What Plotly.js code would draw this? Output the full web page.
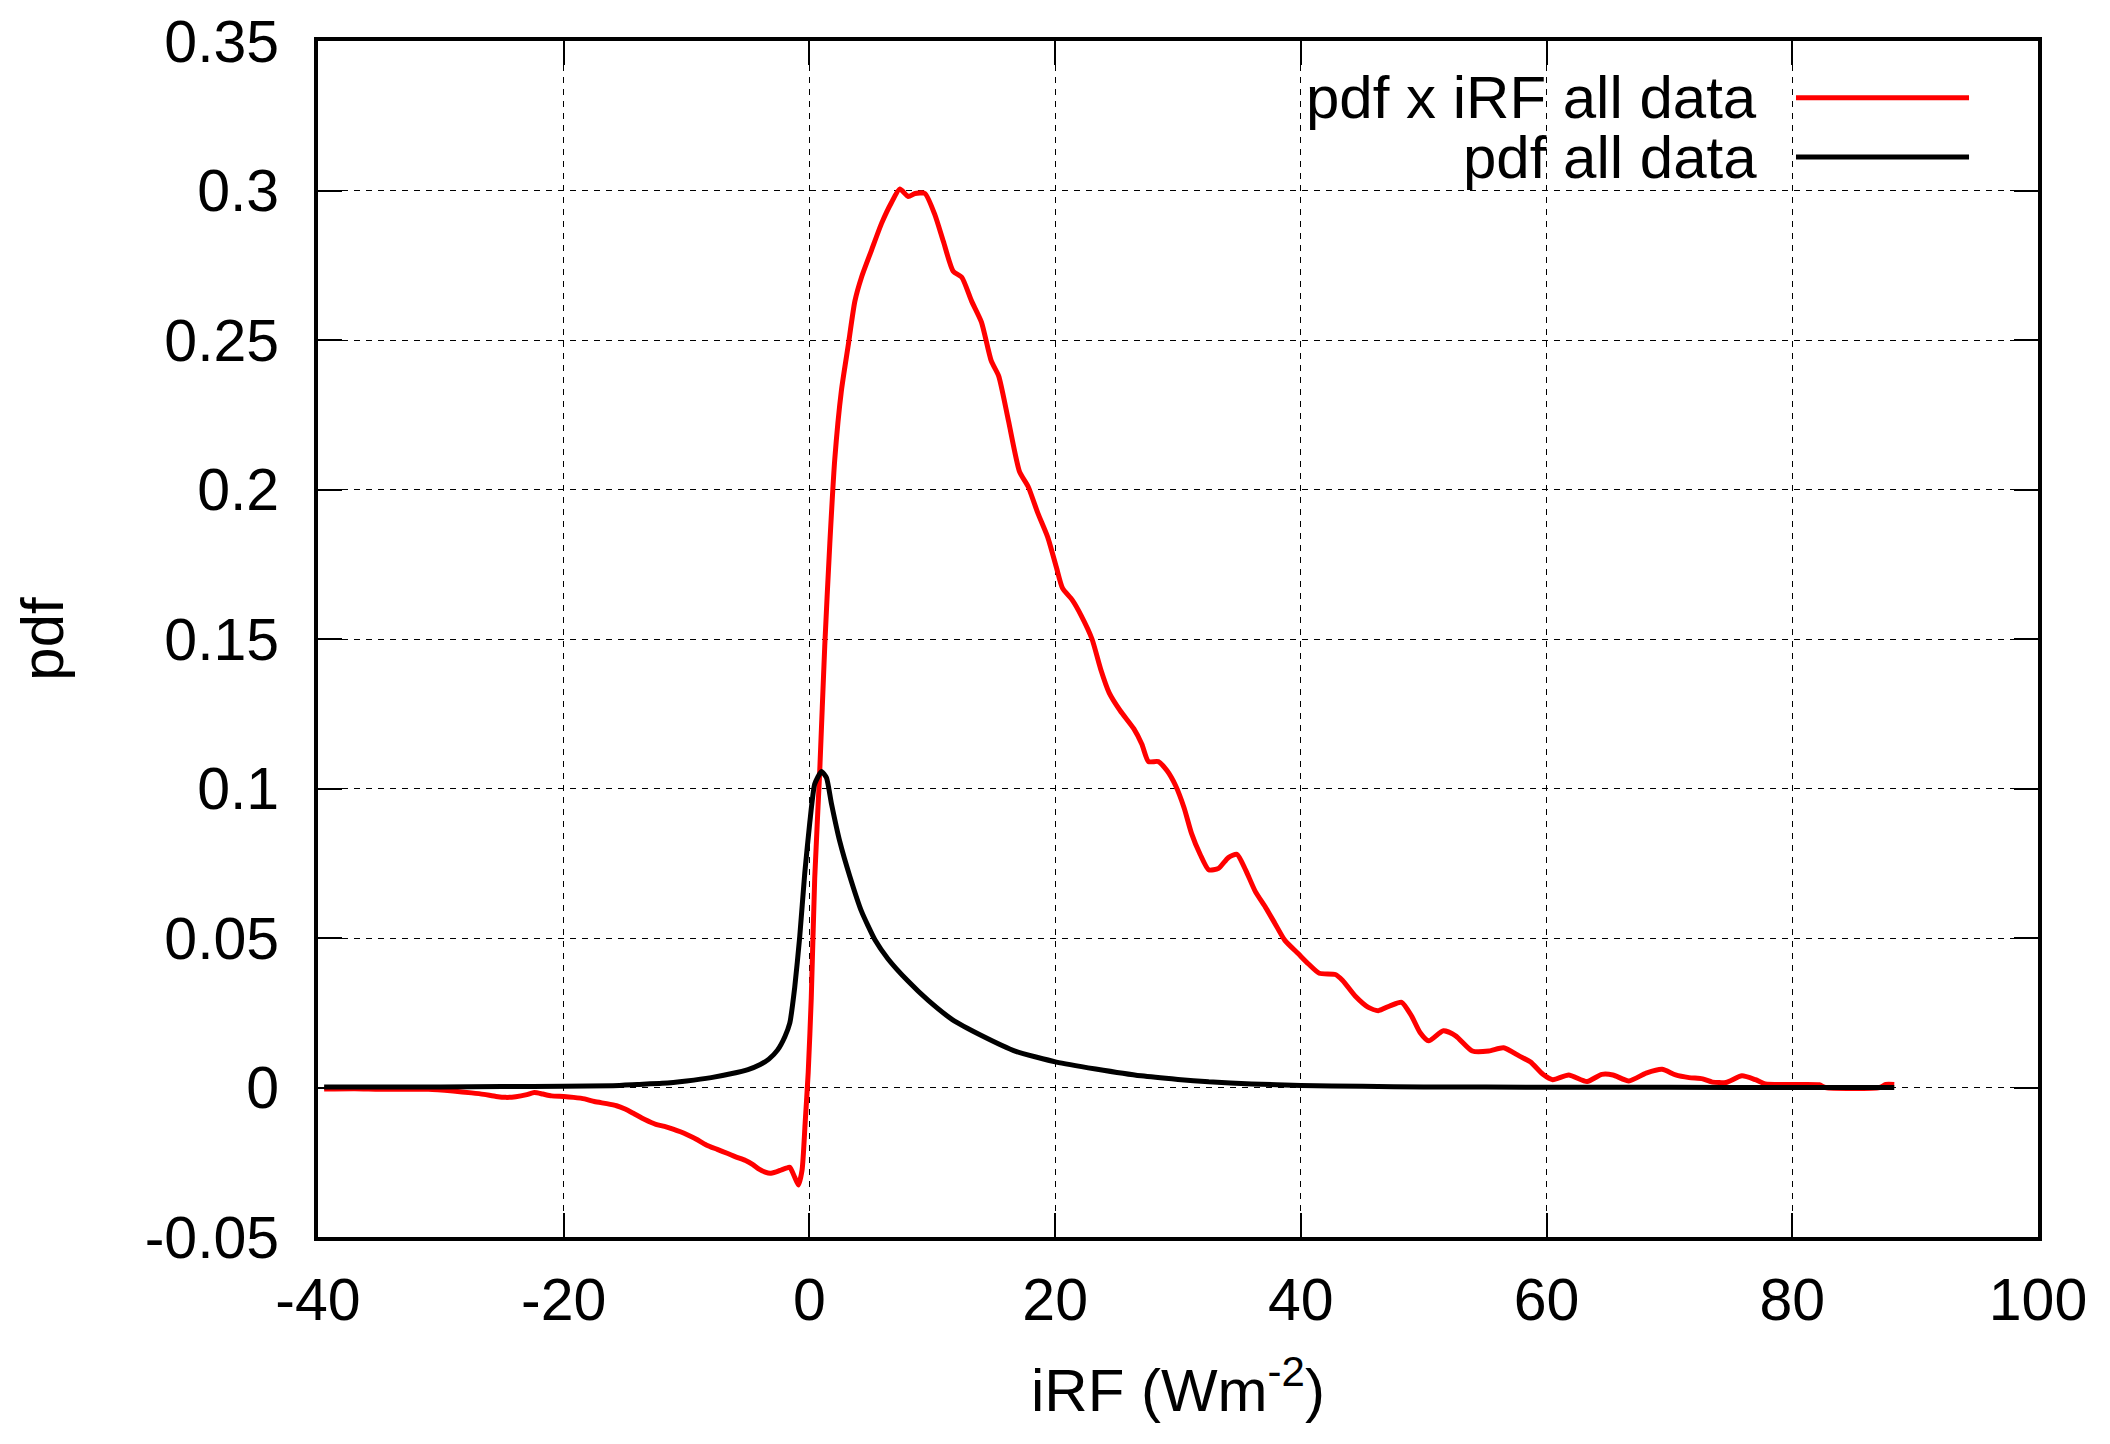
<!DOCTYPE html>
<html>
<head>
<meta charset="utf-8">
<script src="https://cdn.plot.ly/plotly-3.0.1.min.js"></script>
<style>html,body{margin:0;padding:0;background:#fff;}</style>
</head>
<body>
<div id="chart" style="width:2110px;height:1444px;"></div>
<script>
const seriesNames = ['pdf x iRF all data', 'pdf all data'];
const seriesColors = ['#ff0000', '#000000'];

const redX = [-39.5,-37,-35,-33,-31,-29,-27.5,-26.5,-25.5,-24.7,-23.9,-23,-22.4,-21.7,-21,-20,-19.2,-18.3,-17.5,-16.5,-15.7,-15,-14.3,-13.4,-12.5,-11.8,-11.1,-10.5,-9.9,-9.2,-8.4,-7.5,-6.7,-6,-5.2,-4.6,-4.1,-3.6,-3.2,-2.7,-2.3,-1.9,-1.6,-1.2,-0.9,-0.6,-0.35,-0.1,0.15,0.43,0.84,1.25,1.66,2.06,2.6,3.15,3.7,4.24,5.05,5.87,6.68,7.36,8.04,8.6,9.4,10.2,10.9,11.7,12.4,13.2,14.0,14.8,15.4,16.2,17.1,17.8,18.6,19.4,20.1,20.6,21.4,22.1,23.0,23.7,24.4,25.3,26.4,27.06,27.6,28.4,29.1,29.8,30.5,31.1,31.8,32.5,33.3,34.1,34.8,35.5,36.3,37.1,37.9,38.7,39.8,40.6,41.5,42.8,43.4,44.4,45.5,46.3,47.3,48.2,49.0,49.7,50.4,51.6,52.6,53.96,55.3,56.5,57.8,58.7,59.7,60.5,61.8,63.3,64.5,65.4,66.7,68.1,69.4,70.5,71.6,72.7,73.5,74.6,75.9,77.0,77.8,80,82.2,82.7,87.1,87.6,88.3];
const redY = [-0.0005,-0.0004,-0.0006,-0.0006,-0.0006,-0.0012,-0.0018,-0.0023,-0.003,-0.0033,-0.0031,-0.0024,-0.0017,-0.0022,-0.0028,-0.003,-0.0033,-0.0038,-0.0047,-0.0054,-0.0061,-0.0072,-0.0087,-0.0107,-0.0123,-0.013,-0.0139,-0.0148,-0.0159,-0.0173,-0.0192,-0.0207,-0.022,-0.0232,-0.0244,-0.0258,-0.0273,-0.0283,-0.0287,-0.0282,-0.0276,-0.027,-0.0267,-0.03,-0.0326,-0.0276,-0.012,0.005,0.03,0.07,0.106,0.148,0.182,0.21,0.233,0.248,0.263,0.271,0.28,0.289,0.296,0.3005,0.298,0.299,0.299,0.292,0.283,0.273,0.271,0.263,0.256,0.243,0.238,0.223,0.206,0.201,0.192,0.184,0.174,0.167,0.163,0.158,0.15,0.14,0.132,0.126,0.12,0.1148,0.109,0.109,0.106,0.101,0.0935,0.085,0.078,0.0728,0.0733,0.0769,0.078,0.0728,0.0655,0.0604,0.0548,0.0492,0.0447,0.0414,0.0382,0.0378,0.0358,0.0307,0.0268,0.0257,0.0274,0.0285,0.024,0.0184,0.0156,0.019,0.0173,0.0122,0.0122,0.0133,0.0105,0.0085,0.0044,0.0026,0.0042,0.002,0.0044,0.0042,0.0022,0.0048,0.0061,0.0042,0.0033,0.0029,0.0018,0.0017,0.0039,0.0026,0.0012,0.001,0.0009,0.0,0.0,0.001,0.001];

const blackX = [-39.5,-30,-25,-20,-16,-14,-12,-10,-8,-6.4,-5,-4,-3.3,-2.6,-2.0,-1.6,-1.2,-0.79,-0.38,0.03,0.43,0.98,1.39,1.79,2.47,3.29,4.24,5.33,6.4,8.04,9.67,11.6,14.0,16.8,20.1,23.3,27,30,32.5,36,40,45,50,60,70,80,88.3];
const blackY = [0.0002,0.0002,0.0003,0.0004,0.0006,0.001,0.0014,0.0022,0.0033,0.0046,0.006,0.0077,0.0095,0.0125,0.017,0.0215,0.0334,0.0504,0.0717,0.0887,0.1015,0.1057,0.1036,0.095,0.0823,0.0706,0.0589,0.0494,0.043,0.0355,0.0291,0.0228,0.0174,0.0121,0.0085,0.0062,0.0039,0.0027,0.0019,0.0012,0.0007,0.0004,0.0002,0.0001,0.00005,0.00002,0];

const xTickVals = [-40,-20,0,20,40,60,80,100];
const xTickText = ['-40','-20','0','20','40','60','80','100'];
const yTickVals = [-0.05,0,0.05,0.1,0.15,0.2,0.25,0.3,0.35];
const yTickText = ['-0.05','0','0.05','0.1','0.15','0.2','0.25','0.3','0.35'];

const xTitle = 'iRF (Wm<sup>-2</sup>)';
const yTitle = 'pdf';

const FONT = 'Liberation Sans, Arial, Helvetica, sans-serif';

const traces = [
  {x: redX, y: redY, name: seriesNames[0], type: 'scatter', mode: 'lines',
   line: {color: seriesColors[0], width: 5, shape: 'spline', smoothing: 0.6}},
  {x: blackX, y: blackY, name: seriesNames[1], type: 'scatter', mode: 'lines',
   line: {color: seriesColors[1], width: 5, shape: 'spline', smoothing: 0.5}}
];

const axisCommon = {
  ticks: 'inside', ticklen: 24, tickwidth: 2, tickcolor: '#000',
  showline: true, linewidth: 4, linecolor: '#000', mirror: 'allticks',
  showgrid: true, gridcolor: '#000', gridwidth: 1, griddash: '6px,6px',
  zeroline: false, tickfont: {family: FONT, size: 59, color: '#000'}
};

const legY = [0.9526, 0.903];
const annotations = seriesNames.map((n, i) => ({
  xref: 'paper', yref: 'paper', x: 0.8378, y: legY[i], xanchor: 'right', yanchor: 'middle',
  text: n, showarrow: false, font: {family: FONT, size: 60, color: '#000'}
}));
const shapes = seriesNames.map((n, i) => ({
  type: 'line', xref: 'paper', yref: 'paper', x0: 0.8593, x1: 0.9599, y0: legY[i], y1: legY[i],
  line: {color: seriesColors[i], width: 5}
}));

const layout = {
  width: 2110, height: 1444,
  margin: {l: 318, r: 72, t: 41, b: 207},
  paper_bgcolor: '#fff', plot_bgcolor: '#fff',
  font: {family: FONT, size: 59, color: '#000'},
  showlegend: false,
  xaxis: Object.assign({}, axisCommon, {
    range: [-40, 100], tickmode: 'array', tickvals: xTickVals, ticktext: xTickText,
    ticklabelstandoff: 8,
    title: {text: xTitle, standoff: 38, font: {family: FONT, size: 60, color: '#000'}}
  }),
  yaxis: Object.assign({}, axisCommon, {
    range: [-0.05, 0.35], tickmode: 'array', tickvals: yTickVals, ticktext: yTickText,
    ticklabelstandoff: 23,
    title: {text: yTitle, standoff: 63, font: {family: FONT, size: 60, color: '#000'}}
  }),
  annotations: annotations,
  shapes: shapes
};

Plotly.newPlot('chart', traces, layout, {displayModeBar: false, staticPlot: true});
</script>
</body>
</html>
